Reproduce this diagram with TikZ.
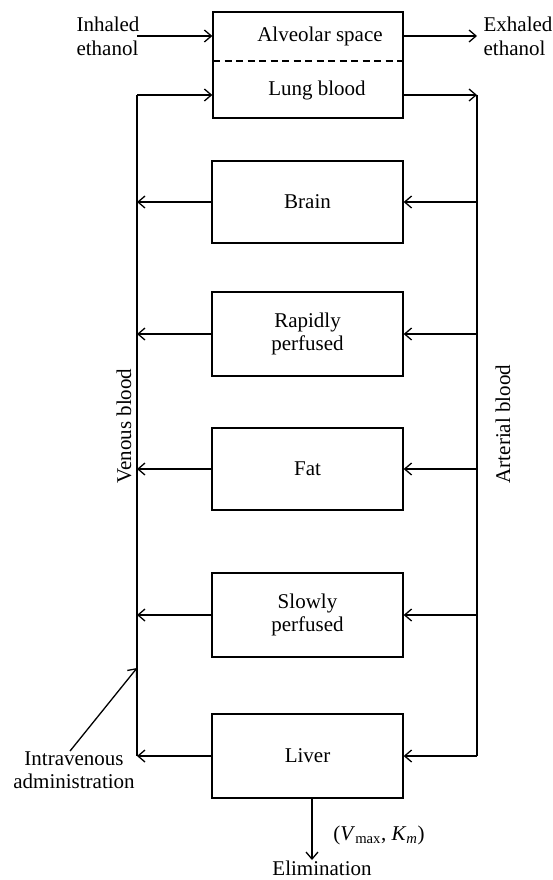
\documentclass[tikz,border=0pt]{standalone}
\usepackage{fontspec}
\setmainfont{Liberation Serif}
\usetikzlibrary{arrows.meta}
\begin{document}
\begin{tikzpicture}[x=1pt,y=-1pt,
  every node/.style={font=\fontsize{21}{23.5}\selectfont, inner sep=0pt},
  organ/.style={draw, line width=1.3pt, minimum width=191pt, minimum height=84pt, align=center},
  flow/.style={line width=1.3pt, -{Straight Barb[length=7pt,width=12pt]}},
  wire/.style={line width=1.3pt},
  vlabel/.style={rotate=90, anchor=base}]
\useasboundingbox (0,0) rectangle (552,880);

% lung compartment
\node (lung) [draw, line width=1.3pt, minimum width=190pt, minimum height=106pt] at (308,65) {};
\node (alv) at (320,36) {Alveolar space};
\node (lb) at (317,90) {Lung blood};
\coordinate (dl) at (213,61);
\coordinate (dr) at (403,61);
\draw[wire, dash pattern=on 7pt off 4.5pt] (dl) -- (dr);

% organ boxes
\node (brain) [organ, minimum height=82pt] at (307.5,202) {Brain};
\node (rapid) [organ] at (307.5,334) {Rapidly\\perfused};
\node (fat)   [organ, minimum height=82pt] at (307.5,469) {Fat};
\node (slow)  [organ] at (307.5,615) {Slowly\\perfused};
\node (liver) [organ] at (307.5,756) {Liver};

% blood lines
\coordinate (vtop) at (137,95);
\coordinate (vbot) at (137,756);
\coordinate (atop) at (477,95);
\coordinate (abot) at (477,756);
\draw[wire] (vtop) -- (vbot);
\draw[wire] (atop) -- (abot);
\draw[flow] (vtop) -- (lung.west |- vtop);
\draw[flow] (lung.east |- atop) -- (atop);

\foreach \o in {brain,rapid,fat,slow} {
  \draw[flow] (abot |- \o) -- (\o.east);
  \draw[flow] (\o.west) -- (vtop |- \o);
}
\draw[flow] (abot) -- (liver.east);
\draw[flow] (liver.west) -- (vbot);

% inhaled / exhaled
\node (inh) [align=left] at (108,36.5) {Inhaled\\ethanol};
\node (exh) [align=left] at (518,36.5) {Exhaled\\ethanol};
\coordinate (inhs) at (137,36);
\coordinate (exhe) at (477,36);
\draw[flow] (inhs) -- (lung.west |- inhs);
\draw[flow] (lung.east |- exhe) -- (exhe);

% elimination
\node (elim) [anchor=base] at (322,875) {Elimination};
\node (vk) at (379,835) {(\textit{V}\textsubscript{max}, \textit{K}\textsubscript{\textit{m}})};
\coordinate (ls) at (312,798);
\coordinate (le) at (312,860);
\draw[flow] (ls) -- (le);

% intravenous
\node (iv) [align=center] at (74,770) {Intravenous\\administration};
\coordinate (ivtip) at (137,668);
\draw[flow] ([xshift=-4pt]iv.north) -- (ivtip);

% vertical labels
\node (ven) [vlabel] at (131,426) {Venous blood};
\node (art) [vlabel] at (510,424) {Arterial blood};
\end{tikzpicture}
\end{document}
